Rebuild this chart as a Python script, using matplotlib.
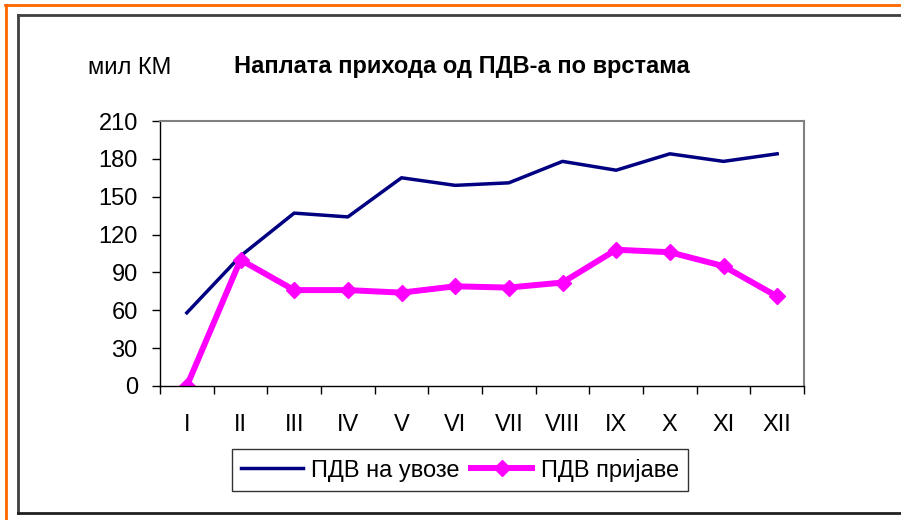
import matplotlib.pyplot as plt
from matplotlib.lines import Line2D

# data
months = ['I', 'II', 'III', 'IV', 'V', 'VI', 'VII', 'VIII', 'IX', 'X', 'XI', 'XII']
vat_import = [58, 103, 137, 134, 165, 159, 161, 178, 171, 184, 178, 184]
vat_returns = [0, 100, 76, 76, 74, 79, 78, 82, 108, 106, 95, 71]
y_ticks = [0, 30, 60, 90, 120, 150, 180, 210]

plt.rcParams['font.family'] = ['Liberation Sans', 'DejaVu Sans']
fs = 17

W, H = 901, 520
fig = plt.figure(figsize=(W / 100, H / 100), dpi=100)
ax = fig.add_axes([160 / W, 1 - 386 / H, (804 - 160) / W, (386 - 121) / H])

x = range(len(months))
ax.plot(x, vat_import, color='#000080', linewidth=2.5, label='ПДВ на увозе')
ax.plot(x, vat_returns, color='#FF00FF', linewidth=4.3, marker='D', markersize=8,
        label='ПДВ пријаве')

ax.set_xlim(-0.5, len(months) - 0.5)
ax.set_ylim(0, 210)
ax.set_yticks(y_ticks)
# ticks between categories, labels under each category
ax.set_xticks([i + 0.5 for i in range(-1, len(months))])
ax.set_xticklabels([])
ax.set_xticks(list(x), minor=True)
ax.set_xticklabels(months, minor=True, fontsize=fs)
ax.tick_params(axis='x', which='major', direction='out', length=6, width=1)
ax.tick_params(axis='x', which='minor', length=0, pad=20)
ax.tick_params(axis='y', direction='out', length=6, width=1, labelsize=fs, pad=10)

for side in ['top', 'right']:
    ax.spines[side].set_color('#808080')
    ax.spines[side].set_linewidth(1.5)
for side in ['left', 'bottom']:
    ax.spines[side].set_color('black')
    ax.spines[side].set_linewidth(1)

fig.text(130 / W, 1 - 68 / H, 'мил КМ', fontsize=fs, ha='center', va='center')
fig.text(462 / W, 1 - 66 / H, 'Наплата прихода од ПДВ-а по врстама', fontsize=fs,
         fontweight='bold', ha='center', va='center')

leg = fig.legend(loc='center', bbox_to_anchor=(460 / W, 1 - 470 / H), ncol=2,
                 fontsize=fs, frameon=True, fancybox=False, edgecolor='black',
                 handlelength=2.6, columnspacing=0.5, handletextpad=0.35,
                 borderpad=0.4, borderaxespad=0)
leg.get_frame().set_linewidth(1)

# outer frames
def fline(xs, ys, color, lw):
    fig.add_artist(Line2D([v / W for v in xs], [1 - v / H for v in ys],
                          color=color, linewidth=lw, transform=fig.transFigure))

fline([5, W], [5, 5], '#FF6600', 2)
fline([6, 6], [5, H], '#FF6600', 2)
fline([18, W], [15, 15], '#404040', 2)
fline([18, 18], [15, 513], '#404040', 2)
fline([18, W], [513, 513], '#202020', 2)

fig.savefig('out.png', dpi=100)
